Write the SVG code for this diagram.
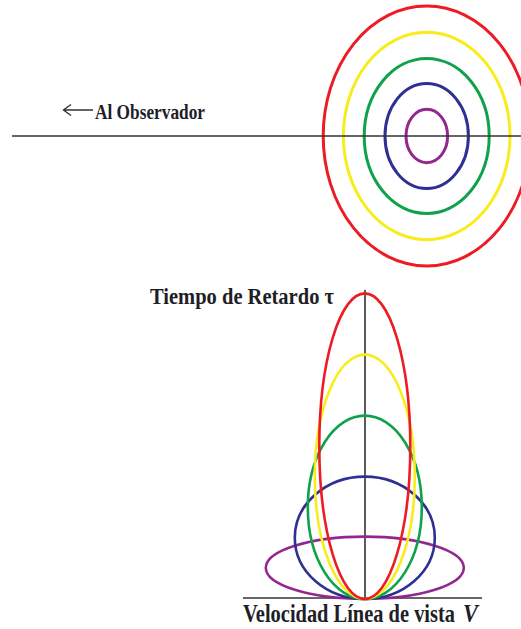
<svg xmlns="http://www.w3.org/2000/svg" width="521" height="629" viewBox="0 0 521 629">
<style>
.lbl{font-family:"Liberation Serif","Times New Roman",serif;font-weight:bold;fill:#1e1e28}
.ax{stroke:#333;stroke-width:1.6;fill:none}
.e{fill:none}
.r{stroke:#ed1c24}.y{stroke:#f9ec1c}.g{stroke:#0fa24a}.b{stroke:#2e3192}.p{stroke:#93278f}
.top .e{stroke-width:3}
.bot .e{stroke-width:2.6}
</style>
<rect width="521" height="629" fill="#fff"/>
<g id="top-rings" class="top">
<ellipse class="e r" cx="426.7" cy="136" rx="103.5" ry="130"/>
<ellipse class="e y" cx="426.7" cy="136" rx="83.3" ry="103.7"/>
<ellipse class="e g" cx="426.7" cy="136" rx="62.5" ry="77.5"/>
<ellipse class="e b" cx="426.7" cy="136" rx="41.7" ry="52.5"/>
<ellipse class="e p" cx="426.8" cy="136" rx="20.8" ry="26.7"/>
</g>
<g id="connectors">
<line class="ax" x1="12" y1="136" x2="521" y2="136"/>
<path d="M93 110 H63.5 M71 104.5 L63.5 110 L71 115.5" stroke="#333" stroke-width="1.4" fill="none"/>
<line class="ax" x1="365" y1="290" x2="365" y2="598"/>
<line class="ax" x1="243" y1="598" x2="482" y2="598"/>
</g>
<g id="observer-label">
<text class="lbl" transform="translate(95,119) scale(0.823,1)" font-size="21" textLength="133.6" lengthAdjust="spacingAndGlyphs">Al Observador</text>
</g>
<g id="bottom-rings" class="bot">
<ellipse class="e p" cx="364.8" cy="567.8" rx="99" ry="31.2"/>
<ellipse class="e b" cx="364.8" cy="537.8" rx="70" ry="61.2"/>
<ellipse class="e g" cx="364.8" cy="507.3" rx="57" ry="91.7"/>
<ellipse class="e y" cx="364.8" cy="476.8" rx="50" ry="122.2"/>
<ellipse class="e r" cx="364.8" cy="446.2" rx="45.5" ry="152.8"/>
</g>
<g id="tau-label">
<text class="lbl" transform="translate(150,303.5) scale(0.89,1)" font-size="23" textLength="206.7" lengthAdjust="spacingAndGlyphs">Tiempo de Retardo τ</text>
</g>
<g id="v-label">
<text class="lbl" transform="translate(243,621.5) scale(0.81,1)" font-size="25" textLength="261.7" lengthAdjust="spacingAndGlyphs">Velocidad Línea de vista</text>
<text class="lbl" transform="translate(463,621.5) scale(0.85,1)" font-size="25" font-style="italic" textLength="17.6" lengthAdjust="spacingAndGlyphs">V</text>
</g>
</svg>
